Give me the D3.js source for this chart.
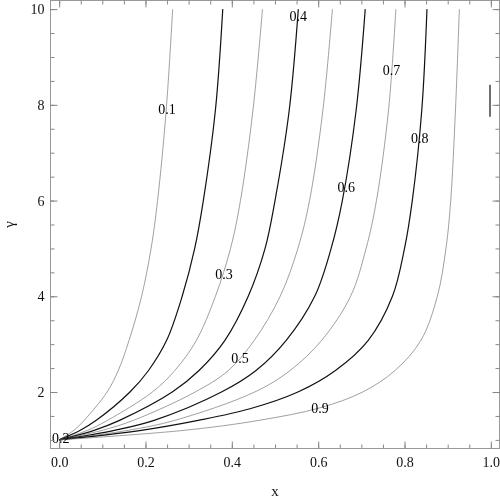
<html>
<head>
<style>
  body { margin: 0; background: #fff; }
  svg { will-change: transform; }
  text { font-family: "Liberation Serif", "DejaVu Serif", serif; }
  .domain { display: none; }
</style>
</head>
<body>
<svg id="chart" width="500" height="500"></svg>
<script src="https://cdn.jsdelivr.net/npm/d3@7"></script>
<script>
// contour levels and the points, as [x, gamma]
const levels = [0.1, 0.2, 0.3, 0.4, 0.5, 0.6, 0.7, 0.8, 0.9]
const c01 = [[0,1],[0.034,1.2],[0.058,1.408],[0.111,2],[0.137,2.45],[0.162,3.08],[0.191,4],[0.213,5],[0.228,6],[0.248,7.893],[0.263,10]]
const c02 = [[0,1],[0.049,1.2],[0.086,1.408],[0.164,2],[0.207,2.45],[0.249,3.08],[0.285,4],[0.314,5],[0.334,6],[0.362,7.893],[0.379,10]]
const c03 = [[0,1],[0.066,1.2],[0.112,1.408],[0.216,2],[0.268,2.45],[0.318,3.08],[0.362,4],[0.397,5],[0.420,6],[0.449,7.893],[0.471,10]]
const c04 = [[0,1],[0.081,1.2],[0.140,1.408],[0.262,2],[0.324,2.45],[0.384,3.08],[0.438,4],[0.477,5],[0.500,6],[0.533,7.893],[0.554,10]]
const c05 = [[0,1],[0.100,1.2],[0.172,1.408],[0.315,2],[0.392,2.45],[0.452,3.08],[0.512,4],[0.553,5],[0.580,6],[0.611,7.893],[0.633,10]]
const c06 = [[0,1],[0.128,1.2],[0.220,1.408],[0.376,2],[0.456,2.45],[0.526,3.08],[0.592,4],[0.630,5],[0.656,6],[0.688,7.893],[0.709,10]]
const c07 = [[0,1],[0.160,1.2],[0.268,1.408],[0.453,2],[0.535,2.45],[0.608,3.08],[0.675,4],[0.711,5],[0.735,6],[0.763,7.893],[0.780,10]]
const c08 = [[0,1],[0.190,1.2],[0.322,1.408],[0.442,1.65],[0.553,2],[0.640,2.45],[0.716,3.08],[0.772,4],[0.800,5],[0.818,6],[0.840,7.893],[0.852,10]]
const c09 = [[0,1],[0.290,1.2],[0.463,1.408],[0.604,1.67],[0.703,2],[0.778,2.45],[0.838,3.08],[0.876,4],[0.896,5],[0.907,6],[0.918,7.893],[0.927,10]]
const stray = [[0.998,8.42],[0.998,7.75]]
// label anchor for each level, [x, gamma]
const labelPos = [[0.250,7.91],[0.004,1.03],[0.382,4.46],[0.554,9.86],[0.419,2.70],[0.665,6.28],[0.770,8.73],[0.835,7.30],[0.604,1.67]]

const xMajor = [0, 0.2, 0.4, 0.6, 0.8, 1.0]
const xMinor = d3.range(0, 1.0001, 0.05)
const yMajor = [2, 4, 6, 8, 10]
const yMinor = d3.range(1, 10.0001, 0.5)

const curves = [c01, c02, c03, c04, c05, c06, c07, c08, c09]

const svg = d3.select("#chart")
const pL = 50.5, pR = 499.5, pT = 0.5, pB = 448.5

const x = d3.scaleLinear().domain([-0.02, 1.02]).range([pL, pR])
const y = d3.scaleLinear().domain([0.82, 10.18]).range([pB, pT])

const line = d3.line()
  .x(d => x(d[0]))
  .y(d => y(d[1]))
  .curve(d3.curveCatmullRom.alpha(0.5))

// contours: odd levels thin gray, even levels thicker black
svg.append("g")
  .selectAll("path")
  .data(curves)
  .join("path")
    .attr("d", line)
    .attr("fill", "none")
    .attr("stroke", (d, i) => i % 2 ? "#111" : "#777")
    .attr("stroke-width", (d, i) => i % 2 ? 1.2 : 0.7)

svg.append("path")
  .attr("d", line(stray))
  .attr("fill", "none")
  .attr("stroke", "#111")
  .attr("stroke-width", 1.2)

svg.append("g")
  .selectAll("text")
  .data(levels)
  .join("text")
    .attr("x", (d, i) => x(labelPos[i][0]))
    .attr("y", (d, i) => y(labelPos[i][1]))
    .attr("dy", "0.35em")
    .attr("text-anchor", "middle")
    .attr("font-size", 14)
    .attr("fill", "#000")
    .text(d => d3.format(".1f")(d))

// frame
svg.append("rect")
  .attr("x", pL).attr("y", pT)
  .attr("width", pR - pL).attr("height", pB - pT)
  .attr("fill", "none")
  .attr("stroke", "#999")
  .attr("stroke-width", 1)

function styleAxis(g) {
  g.selectAll("text").attr("font-size", 14).attr("fill", "#111")
    .attr("font-family", "Liberation Serif, DejaVu Serif, serif")
}

// inward ticks on all four sides
svg.append("g").attr("transform", `translate(0,${pB})`)
  .call(d3.axisBottom(x).tickValues(xMinor).tickSize(-4).tickFormat(""))
svg.append("g").attr("transform", `translate(0,${pB})`)
  .call(d3.axisBottom(x).tickValues(xMajor).tickSize(-7).tickPadding(9).tickFormat(d3.format(".1f")))
  .call(styleAxis)
svg.append("g").attr("transform", `translate(0,${pT})`)
  .call(d3.axisTop(x).tickValues(xMinor).tickSize(-4).tickFormat(""))
svg.append("g").attr("transform", `translate(0,${pT})`)
  .call(d3.axisTop(x).tickValues(xMajor).tickSize(-7).tickFormat(""))

svg.append("g").attr("transform", `translate(${pL},0)`)
  .call(d3.axisLeft(y).tickValues(yMinor).tickSize(-4).tickFormat(""))
svg.append("g").attr("transform", `translate(${pL},0)`)
  .call(d3.axisLeft(y).tickValues(yMajor).tickSize(-7).tickPadding(6).tickFormat(d3.format("d")))
  .call(styleAxis)
svg.append("g").attr("transform", `translate(${pR},0)`)
  .call(d3.axisRight(y).tickValues(yMinor).tickSize(-4).tickFormat(""))
svg.append("g").attr("transform", `translate(${pR},0)`)
  .call(d3.axisRight(y).tickValues(yMajor).tickSize(-7).tickFormat(""))

svg.selectAll(".tick line").attr("stroke", "#888")

// axis titles
svg.append("text")
  .attr("x", (pL + pR) / 2).attr("y", 496)
  .attr("text-anchor", "middle")
  .attr("font-size", 15).attr("fill", "#111")
  .text("x")

svg.append("text")
  .attr("transform", `translate(14,${(pT + pB) / 2}) rotate(-90)`)
  .attr("text-anchor", "middle")
  .attr("font-size", 15).attr("fill", "#111")
  .text("γ")
</script>
</body>
</html>
